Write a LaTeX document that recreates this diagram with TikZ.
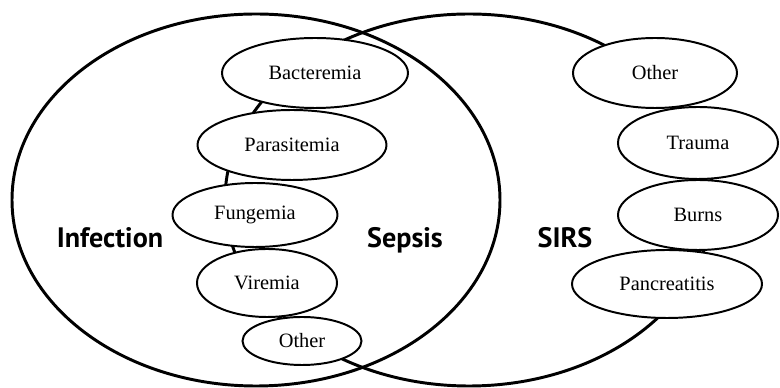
\documentclass[tikz,border=0pt]{standalone}
\usepackage{fontspec}
\setmainfont{Liberation Serif}
\newfontfamily\setfont{PT Sans}
\usetikzlibrary{shapes.geometric}
\tikzset{
  cond/.style={ellipse,draw=black,fill=white,line width=1.4pt,inner sep=0pt,
    font=\fontsize{14.5}{16}\selectfont},
  setname/.style={anchor=base,font=\setfont\bfseries\fontsize{20}{24}\selectfont}
}
\begin{document}
\begin{tikzpicture}[x=1cm,y=1cm]
\useasboundingbox (0,0) rectangle (19.500,9.700);
% the two sets
\draw[line width=2.1pt] (6.400,4.700) ellipse [x radius=6.100,y radius=4.650];
\draw[line width=2.1pt] (11.725,4.700) ellipse [x radius=6.100,y radius=4.650];
% infections
\node[cond,minimum width=4.650cm,minimum height=1.750cm] (bact) at (7.875,7.875) {Bacteremia};
\node[cond,minimum width=4.725cm,minimum height=1.750cm] (para) at (7.300,6.075) {Parasitemia};
\node[cond,minimum width=4.125cm,minimum height=1.600cm] (fung) at (6.375,4.325) {Fungemia};
\node[cond,minimum width=3.500cm,minimum height=1.700cm] (vir) at (6.675,2.625) {Viremia};
\node[cond,minimum width=2.975cm,minimum height=1.200cm] (othinf) at (7.550,1.175) {Other};
% non-infectious causes
\node[cond,minimum width=4.100cm,minimum height=1.750cm] (othsirs) at (16.375,7.875) {Other};
\node[cond,minimum width=4.000cm,minimum height=1.800cm] (trauma) at (17.450,6.125) {Trauma};
\node[cond,minimum width=4.000cm,minimum height=1.750cm] (burns) at (17.450,4.325) {Burns};
\node[cond,minimum width=4.750cm,minimum height=1.700cm] (panc) at (16.675,2.600) {Pancreatitis};
% set names
\node[setname] (infection) at (2.750,3.500) {Infection};
\node[setname] (sepsis) at (10.125,3.500) {Sepsis};
\node[setname] (sirs) at (14.125,3.500) {SIRS};
\end{tikzpicture}
\end{document}
